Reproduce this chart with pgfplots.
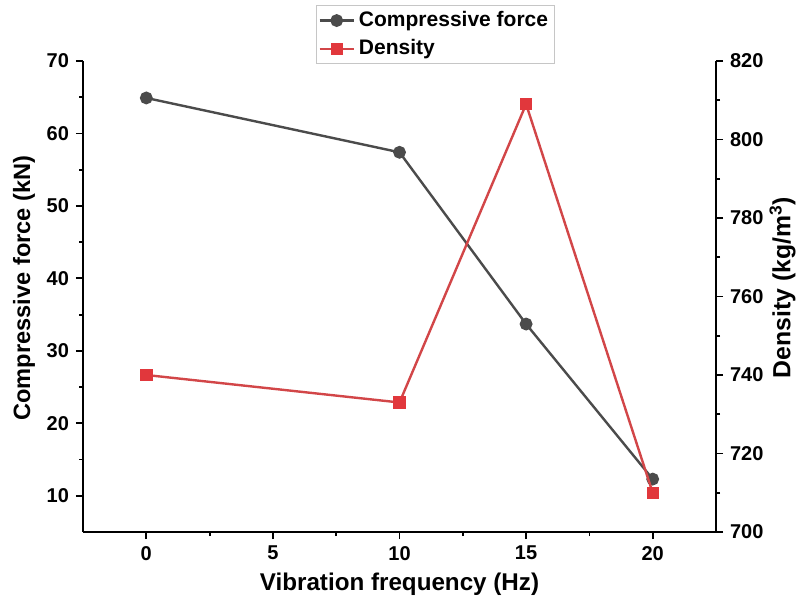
\documentclass[border=0pt]{standalone}
\usepackage{pgfplots}
\pgfplotsset{compat=1.18}
\usepackage{fontspec}
\setmainfont{Liberation Sans}
\definecolor{cgray}{RGB}{75,75,75}
\definecolor{cred}{RGB}{225,55,60}
\definecolor{credl}{RGB}{210,70,72}
\begin{document}
\begin{tikzpicture}
\useasboundingbox (-41.5pt,-36.5pt) rectangle (356.5pt,266pt);
\pgfplotsset{
 every axis/.append style={
  width=316.5pt, height=235.5pt, scale only axis,
  xmin=-2.5, xmax=22.5,
  tick align=outside,
  major tick length=3.5pt, minor tick length=2pt,
  every tick/.style={black, line width=0.9pt},
  axis line style={line width=1pt},
  tick label style={font=\fontsize{10}{12}\selectfont\bfseries},
  /pgf/number format/assume math mode=true,
 }
}
\begin{axis}[
  axis x line*=bottom, axis y line*=left,
  ymin=5, ymax=70,
  xtick={0,5,10,15,20}, minor x tick num=1,
  ytick={10,20,30,40,50,60,70}, minor y tick num=1,
  xlabel={Vibration frequency (Hz)},
  ylabel={Compressive force (kN)},
  every axis x label/.style={at={(axis description cs:0.5,-0.11)}, anchor=center, font=\fontsize{12.1}{14}\selectfont\bfseries},
  every axis y label/.style={at={(axis description cs:-0.093,0.518)}, rotate=90, anchor=center, font=\fontsize{11.8}{14}\selectfont\bfseries},
]
\addplot[cgray, line width=1.2pt, mark=*, mark size=2.6pt, mark options={fill=cgray, draw=cgray}]
 coordinates {(0,64.9) (10,57.4) (15,33.7) (20,12.3)};
\end{axis}
\begin{axis}[
  axis y line*=right, axis x line=none,
  ymin=700, ymax=820,
  ytick={700,720,740,760,780,800,820}, minor y tick num=1,
  ylabel={Density (kg/m\textsuperscript{3})},
  every axis y label/.style={at={(axis description cs:1.105,0.519)}, rotate=90, anchor=center, font=\fontsize{12.4}{14}\selectfont\bfseries},
  legend style={at={(axis description cs:0.368,1.119)}, anchor=north west,
    draw=gray!45, line width=0.5pt, font=\fontsize{10.5}{12}\selectfont\bfseries,
    inner sep=1pt, row sep=1pt, fill=white},
  legend cell align=left,
]
\addlegendimage{cgray, line width=1.2pt, mark=*, mark size=2.6pt, mark options={fill=cgray, draw=cgray}}
\addlegendentry{Compressive force}
\addplot[credl, line width=1.2pt, mark=square*, mark size=2.5pt, mark options={fill=cred, draw=cred}]
 coordinates {(0,740) (10,733) (15,809) (20,710)};
\addlegendentry{Density}
\end{axis}
\end{tikzpicture}
\end{document}
